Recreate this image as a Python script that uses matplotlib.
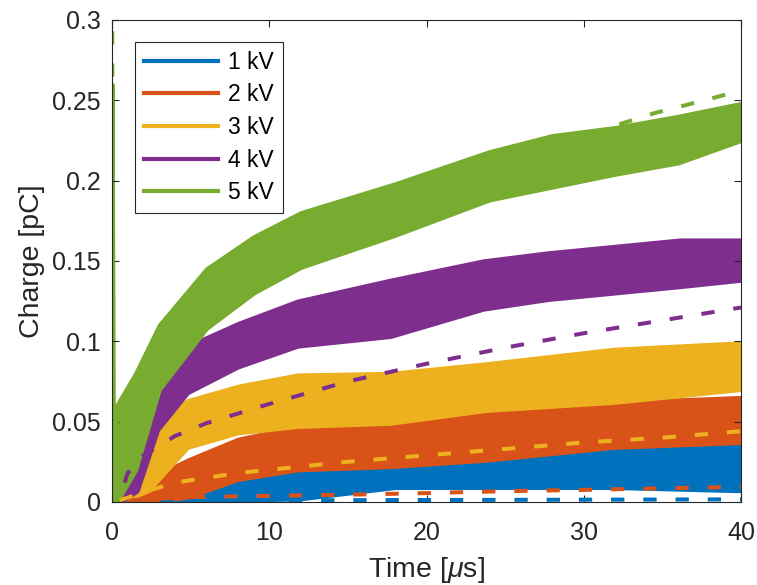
import matplotlib.pyplot as plt
import numpy as np

plt.rcParams['font.family'] = ['Liberation Sans', 'DejaVu Sans']
plt.rcParams['mathtext.fontset'] = 'custom'
plt.rcParams['mathtext.it'] = 'Liberation Sans:italic'

t1 = [1.0, 2.0, 4.0, 8.0, 12.0, 18.0, 24.0, 32.0, 40.0]
hi1 = [0.004, 0.008, 0.014, 0.020, 0.022, 0.022, 0.026, 0.034, 0.037]
lo1 = [0.0, 0.0, 0.0, 0.001, 0.002, 0.009, 0.009, 0.009, 0.007]

t2 = [0.5, 2.3, 4.8, 8.0, 11.8, 17.7, 23.8, 31.9, 40.0]
hi2 = [0.002, 0.014, 0.026, 0.039, 0.047, 0.047, 0.055, 0.062, 0.065]
lo2 = [0.0, 0.0, 0.003, 0.014, 0.020, 0.022, 0.026, 0.034, 0.037]

t3 = [0.3, 0.6, 2.3, 4.8, 8.0, 11.8, 17.7, 23.8, 31.9, 40.0]
hi3 = [0.002, 0.007, 0.047, 0.063, 0.072, 0.079, 0.080, 0.086, 0.095, 0.099]
lo3 = [0.0, 0.0, 0.007, 0.034, 0.043, 0.047, 0.049, 0.057, 0.062, 0.070]

t4 = [0.2, 0.6, 1.6, 2.9, 4.8, 8.0, 11.8, 17.7, 23.6, 27.7, 31.9, 36.1, 40.0]
hi4 = [0.005, 0.020, 0.034, 0.076, 0.097, 0.111, 0.125, 0.138, 0.150, 0.155, 0.159, 0.163, 0.163]
lo4 = [0.0, 0.0, 0.007, 0.045, 0.068, 0.084, 0.097, 0.103, 0.120, 0.126, 0.130, 0.134, 0.138]

t5 = [0.0, 0.08, 0.3, 1.5, 3.0, 6.0, 9.0, 12.0, 18.0, 24.0, 28.0, 32.0, 36.0, 40.0]
hi5 = [0.26, 0.045, 0.060, 0.080, 0.110, 0.145, 0.165, 0.180, 0.198, 0.218, 0.228, 0.233, 0.240, 0.248]
lo5 = [0.0, 0.0, 0.0, 0.020, 0.070, 0.108, 0.130, 0.146, 0.166, 0.188, 0.196, 0.204, 0.211, 0.225]

# fitted curves (dashed)
tf1 = [1.0, 5.0, 10.0, 20.0, 30.0, 40.0]
f1 = [0.0005, 0.0008, 0.001, 0.0012, 0.0014, 0.0016]
tf2 = [1.0, 5.0, 10.0, 15.0, 20.0, 25.0, 30.0, 35.0, 40.0]
f2 = [0.001, 0.003, 0.0038, 0.0045, 0.0055, 0.0067, 0.0075, 0.0085, 0.0094]
tf3 = [0.5, 2.0, 4.0, 6.0, 8.0, 10.0, 15.0, 20.0, 25.0, 30.0, 35.0, 40.0]
f3 = [0.001, 0.006, 0.012, 0.015, 0.018, 0.020, 0.025, 0.029, 0.033, 0.037, 0.040, 0.044]
tf4 = [0.8, 1.0, 2.0, 4.0, 6.0, 10.0, 15.0, 20.0, 25.0, 30.0, 35.0, 40.0]
f4 = [0.012, 0.018, 0.029, 0.041, 0.049, 0.061, 0.075, 0.086, 0.096, 0.105, 0.113, 0.121]
tf5 = [0.01, 0.06, 0.3, 1.0, 3.0, 6.0, 10.0, 15.0, 20.0, 25.0, 30.0, 34.5, 36.5, 40.0]
f5 = [0.32, 0.04, 0.05, 0.06, 0.100, 0.130, 0.160, 0.180, 0.197, 0.212, 0.228, 0.242, 0.247, 0.256]

labels = ['1 kV', '2 kV', '3 kV', '4 kV', '5 kV']
colors = ['#0072BD', '#D95319', '#EDB120', '#7E2F8E', '#77AC30']

fig = plt.figure(figsize=(7.57, 5.85), dpi=100)
ax = fig.add_axes([0.148, 0.142, 0.831, 0.824])

traces = [(t1, hi1, lo1), (t2, hi2, lo2), (t3, hi3, lo3), (t4, hi4, lo4), (t5, hi5, lo5)]
for (t, hi, lo), c, lab in zip(traces, colors, labels):
    ax.fill_between(t, lo, hi, color=c, lw=3, edgecolor=c)
    ax.plot([], [], color=c, lw=3, label=lab)

fits = [(tf1, f1), (tf2, f2), (tf3, f3), (tf4, f4), (tf5, f5)]
for (t, f), c in zip(fits, colors):
    ax.plot(t, f, color=c, lw=2.9, dashes=(3.3, 4.7), dash_capstyle='butt')

ax.set_xlim(0, 40)
ax.set_ylim(0, 0.3)
ax.set_xticks(np.arange(0, 41, 10))
ax.set_yticks([0, 0.05, 0.1, 0.15, 0.2, 0.25, 0.3])
ax.set_yticklabels(['0', '0.05', '0.1', '0.15', '0.2', '0.25', '0.3'])

for axis in ['top', 'bottom', 'left', 'right']:
    ax.spines[axis].set_linewidth(0.8)
    ax.spines[axis].set_color('#262626')
ax.tick_params(direction='in', length=5, width=0.8, colors='#262626',
               labelsize=18, top=True, right=True, pad=8)
ax.tick_params(axis='x', pad=14)

ax.set_xlabel(r'Time [$\mu$s]', fontsize=20.5, color='#262626', labelpad=7)
ax.set_ylabel('Charge [pC]', fontsize=20.5, color='#262626', labelpad=5)

leg = ax.legend(loc='upper left', bbox_to_anchor=(0.037, 0.955), fontsize=16.5,
                borderaxespad=0, handlelength=3.2, handletextpad=0.45, labelspacing=0.42,
                fancybox=False, framealpha=1, edgecolor='#262626', borderpad=0.4)
leg.get_frame().set_linewidth(0.8)

plt.savefig('out.png', dpi=100)
